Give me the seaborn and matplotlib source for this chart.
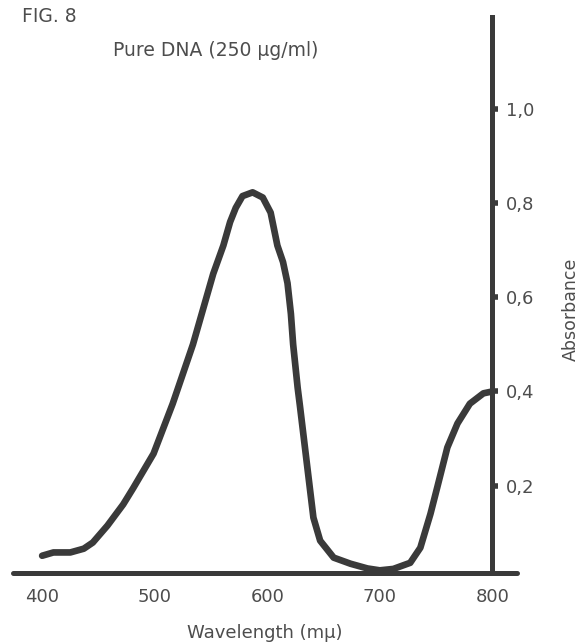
import pandas as pd
import matplotlib.pyplot as plt
import seaborn as sns

# --- data ---
wavelength = [400, 410, 425, 437, 445, 458, 472, 481, 499, 516, 534, 543, 552, 561,
              567, 572, 578, 587, 596, 603, 609, 614, 618, 621, 623, 627, 629, 636,
              641, 647, 659, 674, 689, 700, 712, 727, 736, 745, 751, 760, 769, 780,
              792, 800]
absorbance = [0.051, 0.058, 0.058, 0.066, 0.079, 0.115, 0.160, 0.195, 0.268, 0.374,
              0.500, 0.575, 0.650, 0.710, 0.760, 0.790, 0.815, 0.823, 0.812, 0.780,
              0.710, 0.675, 0.630, 0.565, 0.500, 0.408, 0.370, 0.231, 0.132, 0.083,
              0.047, 0.034, 0.024, 0.020, 0.023, 0.036, 0.068, 0.140, 0.196, 0.281,
              0.332, 0.374, 0.396, 0.400]
x_ticks = [400, 500, 600, 700, 800]
y_ticks = [0.2, 0.4, 0.6, 0.8, 1.0]
y_ticklabels = ["0,2", "0,4", "0,6", "0,8", "1,0"]

INK = "#3a3a3a"
TXT = "#4d4d4d"

sns.set_theme(style="white")
plt.rcParams['font.family'] = ['DejaVu Sans']

df = pd.DataFrame({"Wavelength": wavelength, "Absorbance": absorbance})

fig = plt.figure(figsize=(5.85, 6.44), dpi=100)
ax = fig.add_axes([0.022, 0.110, 0.862, 0.864])

sns.lineplot(ax=ax, data=df, x="Wavelength", y="Absorbance", color=INK,
             linewidth=4.8, solid_capstyle="round", solid_joinstyle="round")

ax.set_xlim(374, 822)
ax.set_ylim(0.014, 1.196)

# axes: bottom line + vertical line at 800
for s in ["top", "left"]:
    ax.spines[s].set_visible(False)
ax.spines["bottom"].set_color(INK)
ax.spines["bottom"].set_linewidth(3.6)
ax.spines["bottom"].set_capstyle("round")
ax.spines["right"].set_position(("data", 800))
ax.spines["right"].set_color(INK)
ax.spines["right"].set_linewidth(3.6)

ax.yaxis.tick_right()
ax.set_yticks(y_ticks)
ax.set_yticklabels(y_ticklabels)
ax.set_xticks(x_ticks)
ax.tick_params(axis="both", direction="out", color=INK, labelcolor=TXT)
ax.tick_params(axis="x", width=4.5, length=4.5, pad=6, labelsize=13)
ax.tick_params(axis="y", width=4.0, length=4.5, pad=5, labelsize=13)

ax.set_xlabel("Wavelength (mμ)", fontsize=13, color=TXT, labelpad=13)
ax.yaxis.set_label_position("right")
ax.set_ylabel("Absorbance", fontsize=12.5, color=TXT)
ax.yaxis.set_label_coords(1.089, 0.475)
ax.grid(False)

fig.text(22 / 585, 1 - 17 / 644, "FIG. 8", fontsize=13.5, color=TXT,
         va="center", ha="left")
fig.text(113 / 585, 1 - 51 / 644, "Pure DNA (250 μg/ml)", fontsize=13.5,
         color=TXT, va="center", ha="left")

fig.savefig("out.png", dpi=100)
